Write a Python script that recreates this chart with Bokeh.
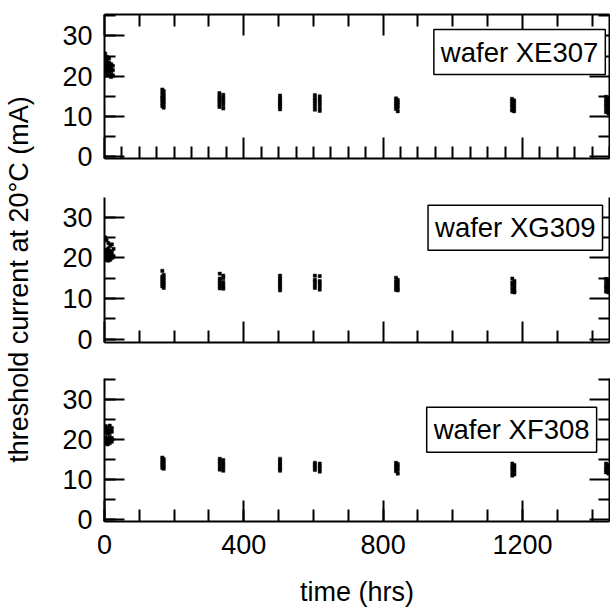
import math
from bokeh.plotting import figure
from bokeh.models import (Range1d, LinearAxis, SingleIntervalTicker, FixedTicker, Label,
                          ColumnDataSource)
from bokeh.layouts import column, row
from bokeh.embed import file_html
from bokeh.resources import INLINE

# ---------------- data ----------------
xe307_hours = [2, 2, 2, 2, 2, 2, 7, 7, 7, 7, 7, 7, 7, 13, 13, 13, 13, 13, 13, 19, 19, 19, 19, 19, 24, 24, 24,
               166, 166, 166, 166, 166, 166, 166, 170, 170, 170, 170, 170, 170, 170,
               330, 330, 330, 330, 330, 330, 341, 341, 341, 341, 341, 341,
               504, 504, 504, 504, 504, 504, 504, 504,
               604, 604, 604, 604, 604, 604, 618, 618, 618, 618, 618, 618,
               837, 837, 837, 837, 837, 842, 842, 842, 842, 842,
               1170, 1170, 1170, 1170, 1170, 1176, 1176, 1176, 1176, 1176,
               1440, 1440, 1440, 1440, 1440, 1440, 1447, 1447, 1447, 1447, 1447, 1447]
xe307_ma = [25.6, 24.1, 23.2, 22.5, 21.6, 20.9, 24.8, 23.9, 23.1, 22.3, 21.8, 21.0, 20.4,
            24.4, 23.4, 22.7, 22.0, 21.2, 20.3, 23.0, 22.1, 21.3, 20.6, 19.8, 22.6, 21.5, 20.2,
            16.7, 15.9, 15.1, 14.6, 14.0, 13.3, 12.6, 16.3, 15.5, 14.8, 14.3, 13.7, 13.0, 12.2,
            15.8, 15.0, 14.4, 13.8, 13.1, 12.4, 15.4, 14.7, 14.1, 13.5, 12.8, 12.0,
            15.2, 14.6, 14.1, 13.7, 13.2, 12.8, 12.3, 11.8,
            15.3, 14.5, 13.9, 13.2, 12.5, 11.7, 15.0, 14.2, 13.6, 12.9, 12.1, 11.4,
            14.5, 13.8, 13.2, 12.6, 11.9, 14.1, 13.5, 12.9, 12.2, 11.3,
            14.4, 13.7, 13.0, 12.3, 11.5, 14.0, 13.4, 12.7, 12.0, 11.3,
            14.9, 14.1, 13.4, 12.7, 11.9, 11.1, 14.5, 13.8, 13.0, 12.3, 11.5, 10.8]

xg309_hours = [2, 2, 2, 2, 2, 6, 6, 6, 6, 6, 11, 11, 11, 11, 11, 11, 16, 16, 16, 16, 16, 21, 21, 21, 21, 26, 26,
               166, 166, 166, 166, 166, 166, 170, 170, 170, 170, 170, 170,
               331, 331, 331, 331, 331, 331, 341, 341, 341, 341, 341, 341,
               504, 504, 504, 504, 504, 504, 504, 504,
               604, 604, 604, 604, 604, 618, 618, 618, 618, 618,
               837, 837, 837, 837, 837, 842, 842, 842, 842, 842,
               1171, 1171, 1171, 1171, 1171, 1177, 1177, 1177, 1177, 1177,
               1440, 1440, 1440, 1440, 1440, 1447, 1447, 1447, 1447, 1447]
xg309_ma = [25.0, 22.0, 21.2, 20.5, 19.8, 24.3, 21.8, 21.0, 20.2, 19.4,
            23.6, 22.3, 21.5, 20.8, 20.0, 19.3, 22.9, 21.7, 20.9, 20.1, 19.5, 23.3, 21.4, 20.6, 19.9, 22.2, 20.4,
            16.8, 15.4, 14.8, 14.2, 13.6, 13.0, 15.8, 15.1, 14.5, 13.9, 13.3, 12.6,
            16.1, 14.9, 14.3, 13.7, 13.1, 12.5, 15.6, 15.0, 14.0, 13.4, 12.8, 12.4,
            15.6, 15.0, 14.5, 14.0, 13.5, 13.0, 12.5, 12.0,
            15.6, 14.6, 14.0, 13.3, 12.6, 15.5, 14.3, 13.7, 13.0, 12.2,
            15.1, 14.2, 13.5, 12.8, 12.1, 14.6, 13.9, 13.2, 12.5, 12.0,
            14.9, 13.9, 13.2, 12.4, 11.6, 14.3, 13.6, 12.8, 12.0, 11.5,
            14.8, 14.0, 13.2, 12.5, 11.7, 14.4, 13.6, 12.9, 12.1, 11.5]

xf308_hours = [3, 3, 3, 3, 3, 3, 9, 9, 9, 9, 9, 9, 15, 15, 15, 15, 15, 15, 21, 21, 21, 21,
               166, 166, 166, 166, 166, 170, 170, 170, 170, 170,
               331, 331, 331, 331, 331, 341, 341, 341, 341, 341,
               504, 504, 504, 504, 504, 504, 504,
               604, 604, 604, 604, 618, 618, 618, 618,
               837, 837, 837, 837, 842, 842, 842, 842,
               1171, 1171, 1171, 1171, 1171, 1177, 1177, 1177, 1177,
               1440, 1440, 1440, 1440, 1447, 1447, 1447, 1447]
xf308_ma = [23.4, 22.6, 21.8, 20.6, 19.8, 19.0, 23.0, 22.2, 21.5, 20.3, 19.4, 18.8,
            23.5, 22.4, 21.7, 20.7, 19.9, 19.1, 22.9, 22.0, 20.4, 19.5,
            15.5, 14.8, 14.2, 13.6, 12.9, 15.1, 14.5, 13.9, 13.3, 12.7,
            15.2, 14.5, 13.9, 13.2, 12.5, 14.9, 14.2, 13.6, 12.9, 12.2,
            15.2, 14.7, 14.1, 13.6, 13.1, 12.6, 12.2,
            14.2, 13.6, 13.0, 12.4, 14.0, 13.3, 12.7, 12.0,
            14.2, 13.5, 12.8, 12.1, 13.9, 13.2, 12.4, 11.5,
            14.0, 13.2, 12.5, 11.7, 11.0, 13.6, 12.9, 12.1, 11.3,
            14.0, 13.2, 12.5, 11.8, 13.7, 12.9, 12.1, 11.5]

wafer_names = ["wafer XE307", "wafer XG309", "wafer XF308"]
y_label = "threshold current at 20\u00b0C (mA)"
x_label = "time (hrs)"

# ---------------- styling ----------------
FONT = "Liberation Sans"
FS = "27px"
X_MAX = 1450
x_range = Range1d(0, X_MAX)

Y_MAJOR = list(range(0, 40, 10))
Y_MINOR = list(range(5, 40, 10))
X_MAJOR = list(range(0, X_MAX, 400))


def style(ax, major_len, minor_len, line=True):
    ax.axis_line_width = 2
    ax.axis_line_color = "black" if line else None
    ax.major_tick_in = major_len
    ax.major_tick_out = 0
    ax.minor_tick_in = minor_len
    ax.minor_tick_out = 0
    ax.major_tick_line_width = 2
    ax.minor_tick_line_width = 2
    ax.major_tick_line_color = "black"
    ax.minor_tick_line_color = "black"
    ax.major_label_standoff = 0
    return ax


def bare_axes(p, side, majors, minors, major_len, minor_len):
    """Tick-only axis (no labels): two overlapping axes using only minor ticks."""
    a = LinearAxis(ticker=FixedTicker(ticks=[], minor_ticks=majors))
    style(a, 0, major_len, line=True)
    p.add_layout(a, side)
    b = LinearAxis(ticker=FixedTicker(ticks=[], minor_ticks=minors))
    style(b, 0, minor_len, line=False)
    p.add_layout(b, side)


def panel(hours, ma, name, yr, height, top, bottom, label_pos, top_axis, bottom_step, bottom_labels):
    p = figure(width=570, height=height, x_range=x_range, y_range=Range1d(*yr),
               x_axis_location=None, y_axis_location=None,
               toolbar_location=None, output_backend="svg",
               min_border_left=64, min_border_right=1,
               min_border_top=top, min_border_bottom=bottom)
    p.outline_line_color = None
    p.grid.grid_line_color = None
    p.background_fill_color = "white"
    p.border_fill_color = "white"

    left = LinearAxis(ticker=SingleIntervalTicker(interval=10, num_minor_ticks=2))
    style(left, 20, 11)
    left.major_label_text_font = FONT
    left.major_label_text_font_size = FS
    left.major_label_text_color = "black"
    left.major_label_standoff = 12
    p.add_layout(left, "left")

    bare_axes(p, "right", Y_MAJOR, Y_MINOR, 20, 11)

    x_minor = [v for v in range(0, X_MAX + 1, bottom_step) if v not in X_MAJOR]
    if bottom_labels:
        bot = LinearAxis(ticker=SingleIntervalTicker(interval=400, num_minor_ticks=4))
        style(bot, 21, 12)
        bot.major_label_text_font = FONT
        bot.major_label_text_font_size = FS
        bot.major_label_text_color = "black"
        bot.major_label_standoff = 13
        bot.axis_label = x_label
        bot.axis_label_text_font = FONT
        bot.axis_label_text_font_size = FS
        bot.axis_label_text_font_style = "normal"
        bot.axis_label_text_color = "black"
        bot.axis_label_standoff = 20
        p.add_layout(bot, "below")
    else:
        bare_axes(p, "below", X_MAJOR, x_minor, 21, 12)
    if top_axis:
        top_minor = [v for v in range(0, X_MAX + 1, 100) if v not in X_MAJOR]
        bare_axes(p, "above", X_MAJOR, top_minor, 21, 12)

    src = ColumnDataSource(dict(hours=hours, ma=ma))
    p.scatter("hours", "ma", source=src, marker="square", size=3.2,
              fill_color="black", line_color="black", line_width=0.5)

    lab = Label(x=label_pos[0], y=label_pos[1], text=name, text_font=FONT, text_font_size="27.5px",
                text_align="right", text_baseline="middle", text_color="black",
                background_fill_color="white", border_line_color="black", border_line_width=1.5,
                padding=7)
    p.add_layout(lab)
    return p


p1 = panel(xe307_hours, xe307_ma, wafer_names[0], (-0.4, 35.3), 176, 14, 18, (1438, 26.0), True, 50, False)
p2 = panel(xg309_hours, xg309_ma, wafer_names[1], (-0.8, 34.8), 184, 21, 18, (1430, 27.4), False, 100, False)
p3 = panel(xf308_hours, xf308_ma, wafer_names[2], (-0.5, 35.3), 250, 18, 89, (1413, 22.5), False, 100, True)

# narrow strip carrying the shared y-axis title
lab_fig = figure(width=40, height=610, x_range=Range1d(0, 40), y_range=Range1d(0, 610),
                 x_axis_location=None, y_axis_location=None, toolbar_location=None,
                 output_backend="svg", min_border=0)
lab_fig.outline_line_color = None
lab_fig.grid.grid_line_color = None
lab_fig.add_layout(Label(x=33, y=610 - 279, text=y_label, angle=math.pi / 2,
                         text_font=FONT, text_font_size=FS, text_color="black",
                         text_align="center", text_baseline="bottom"))

layout = row(lab_fig, column(p1, p2, p3, spacing=0), spacing=0)
open("out.html", "w").write(file_html(layout, INLINE))
